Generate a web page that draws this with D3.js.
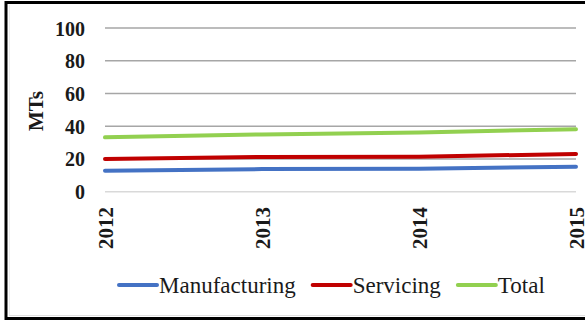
<!DOCTYPE html>
<html><head><meta charset="utf-8">
<script src="https://cdn.jsdelivr.net/npm/d3@7"></script>
</head><body style="margin:0;font-family:'Liberation Serif'">
<svg id="c" width="585" height="321" style="display:block;font-family:'Liberation Serif'"></svg>
<script>
const years = ["2012","2013","2014","2015"];
const manufacturing = [12.8, 13.8, 14.0, 15.3];
const servicing = [20.0, 21.2, 21.3, 23.1];
const total = [33.2, 35.0, 36.2, 38.2];
const yTicks = [0, 20, 40, 60, 80, 100];
const seriesNames = ["Manufacturing", "Servicing", "Total"];
const seriesColors = ["#4472c4", "#c00000", "#92d050"];

const FONT = '"Liberation Serif"';
const svg = d3.select("#c");

// frame
svg.append("rect").attr("x", 6).attr("y", 2.5).attr("width", 600).attr("height", 316)
  .attr("fill", "#fff").attr("stroke", "#000").attr("stroke-width", 3);
svg.append("line").attr("x1", 9).attr("x2", 585).attr("y1", 315.5).attr("y2", 315.5)
  .attr("stroke", "#e0e0e0").attr("stroke-width", 1);
svg.append("line").attr("x1", 9.5).attr("x2", 9.5).attr("y1", 5).attr("y2", 315)
  .attr("stroke", "#eeeeee").attr("stroke-width", 1);

const x = d3.scalePoint().domain(years).range([105, 576]);
const y = d3.scaleLinear().domain([0, 100]).range([191.7, 28]);

// gridlines
svg.append("g").selectAll("line").data(yTicks).join("line")
  .attr("x1", 105).attr("x2", 576)
  .attr("y1", d => y(d)).attr("y2", d => y(d))
  .attr("stroke", d => d === 0 ? "#d9d9d9" : "#a6a6a6")
  .attr("stroke-width", 1.5);

// y axis labels
const yAxis = d3.axisLeft(y).tickValues(yTicks).tickSize(0).tickPadding(0);
const yg = svg.append("g").attr("transform", "translate(85,0)").call(yAxis);
yg.attr("font-family", null);
yg.select(".domain").remove();
yg.selectAll("text").style("font-family", FONT).style("font-size", "20px")
  .style("font-weight", "bold").attr("fill", "#1a1a1a").attr("dy", "0.35em");

// x axis labels
const xAxis = d3.axisBottom(x).tickSize(0).tickPadding(0);
const xg = svg.append("g").attr("transform", "translate(0,207)").call(xAxis);
xg.attr("font-family", null);
xg.select(".domain").remove();
xg.selectAll("text").style("font-family", FONT).style("font-size", "21px")
  .style("font-weight", "bold").attr("fill", "#1a1a1a")
  .attr("text-anchor", "end").attr("transform", "rotate(-90)")
  .attr("x", 0).attr("y", 0).attr("dy", "0.35em");

// y title
svg.append("text").attr("transform", "translate(36,111) rotate(-90)")
  .attr("text-anchor", "middle").attr("dy", "0.35em")
  .style("font-family", FONT).style("font-size", "21px").style("font-weight", "bold")
  .attr("fill", "#1a1a1a").text("MTs");

// lines
const seriesData = [manufacturing, servicing, total];
const line = d3.line().x((d, i) => x(years[i])).y(d => y(d));
seriesData.forEach((s, k) => {
  svg.append("path").attr("d", line(s)).attr("fill", "none")
    .attr("stroke", seriesColors[k]).attr("stroke-width", 4)
    .attr("stroke-linecap", "round");
});

// legend
const lg = svg.append("g");
let cx = 119;
const legendY = 285;
seriesNames.forEach((n, k) => {
  lg.append("line").attr("x1", cx).attr("x2", cx + 38)
    .attr("y1", legendY).attr("y2", legendY)
    .attr("stroke", seriesColors[k]).attr("stroke-width", 4).attr("stroke-linecap", "round");
  const t = lg.append("text").attr("x", cx + 40).attr("y", legendY).attr("dy", "0.35em")
    .style("font-family", FONT).style("font-size", "23px").attr("fill", "#1a1a1a").text(n);
  const w = t.node().getComputedTextLength();
  cx = cx + 40 + w + 17;
});
</script>
</body></html>
